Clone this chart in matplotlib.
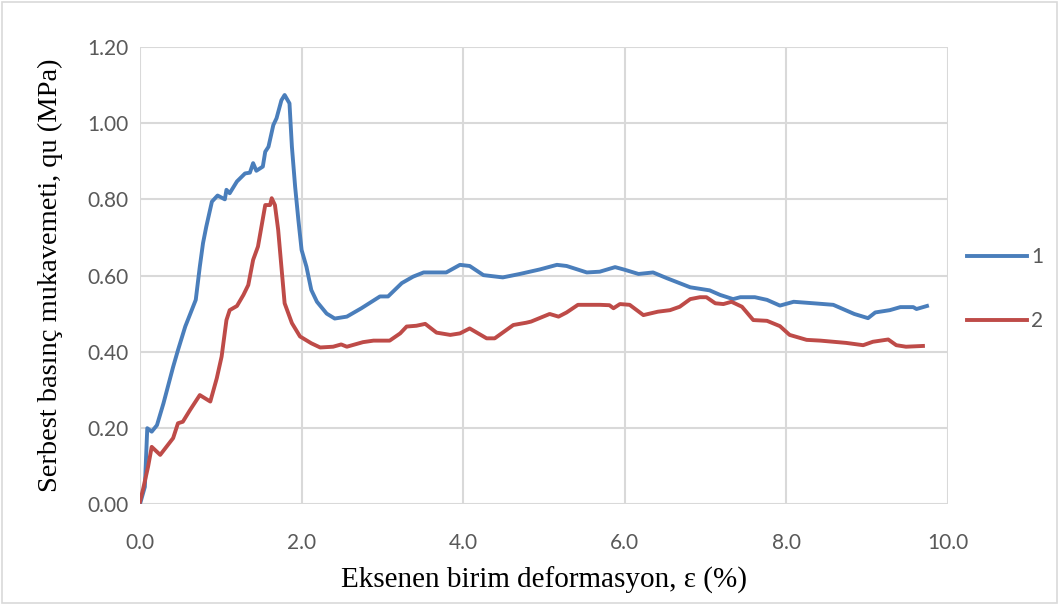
import numpy as np
import matplotlib
matplotlib.use("Agg")
import matplotlib.pyplot as plt
from matplotlib.patches import Rectangle

# Series 1 (blue): strain (%) vs qu (MPa)
x1 = [0.0, 0.06, 0.09, 0.145, 0.21, 0.29, 0.41, 0.47, 0.56, 0.64, 0.69, 0.74, 0.78,
      0.82, 0.89, 0.96, 1.05, 1.07, 1.11, 1.20, 1.30, 1.36, 1.40, 1.44, 1.52, 1.55,
      1.59, 1.65, 1.69, 1.75, 1.79, 1.85, 1.88, 1.92, 1.96, 2.00, 2.06, 2.12, 2.19,
      2.31, 2.41, 2.56, 2.74, 2.97, 3.07, 3.24, 3.38, 3.51, 3.79, 3.96, 4.08, 4.25,
      4.49, 4.70, 4.95, 5.16, 5.28, 5.53, 5.69, 5.88, 6.00, 6.17, 6.35, 6.52, 6.81,
      7.05, 7.18, 7.34, 7.43, 7.61, 7.76, 7.92, 8.09, 8.34, 8.58, 8.84, 9.01, 9.10,
      9.28, 9.41, 9.57, 9.61, 9.74]
y1 = [0.0, 0.045, 0.199, 0.19, 0.207, 0.264, 0.36, 0.404, 0.466, 0.509, 0.536, 0.623,
      0.685, 0.728, 0.794, 0.81, 0.80, 0.825, 0.816, 0.847, 0.868, 0.87, 0.895, 0.875,
      0.886, 0.925, 0.938, 0.995, 1.013, 1.06, 1.074, 1.052, 0.938, 0.833, 0.746,
      0.667, 0.623, 0.562, 0.531, 0.50, 0.487, 0.492, 0.514, 0.545, 0.545, 0.58,
      0.597, 0.608, 0.608, 0.628, 0.625, 0.601, 0.595, 0.604, 0.616, 0.628, 0.625,
      0.608, 0.61, 0.622, 0.615, 0.604, 0.608, 0.593, 0.569, 0.561, 0.549, 0.538,
      0.543, 0.543, 0.536, 0.521, 0.531, 0.527, 0.523, 0.499, 0.488, 0.503, 0.509,
      0.517, 0.517, 0.512, 0.52]

# Series 2 (red)
x2 = [0.0, 0.04, 0.10, 0.145, 0.25, 0.41, 0.47, 0.53, 0.62, 0.74, 0.87, 0.95, 1.01,
      1.07, 1.11, 1.20, 1.28, 1.34, 1.40, 1.46, 1.55, 1.61, 1.63, 1.67, 1.71, 1.75,
      1.79, 1.88, 1.98, 2.12, 2.23, 2.39, 2.49, 2.56, 2.76, 2.89, 3.09, 3.22, 3.30,
      3.42, 3.53, 3.67, 3.84, 3.96, 4.08, 4.29, 4.39, 4.62, 4.78, 4.84, 5.07, 5.18,
      5.28, 5.42, 5.69, 5.81, 5.86, 5.94, 6.06, 6.23, 6.41, 6.56, 6.68, 6.81, 6.93,
      7.01, 7.12, 7.22, 7.32, 7.45, 7.59, 7.76, 7.92, 8.04, 8.25, 8.42, 8.58, 8.74,
      8.95, 9.07, 9.26, 9.36, 9.48, 9.69]
y2 = [0.006, 0.041, 0.098, 0.15, 0.129, 0.173, 0.212, 0.216, 0.247, 0.286, 0.269,
      0.33, 0.387, 0.483, 0.509, 0.52, 0.549, 0.575, 0.641, 0.676, 0.785, 0.785,
      0.803, 0.785, 0.72, 0.623, 0.527, 0.475, 0.44, 0.422, 0.411, 0.413, 0.419,
      0.413, 0.425, 0.429, 0.429, 0.448, 0.466, 0.468, 0.473, 0.45, 0.444, 0.448,
      0.461, 0.435, 0.435, 0.47, 0.476, 0.479, 0.499, 0.492, 0.503, 0.523, 0.523,
      0.522, 0.514, 0.525, 0.523, 0.496, 0.505, 0.509, 0.518, 0.538, 0.543, 0.543,
      0.527, 0.525, 0.531, 0.518, 0.483, 0.481, 0.467, 0.444, 0.431, 0.429, 0.426,
      0.423, 0.417, 0.426, 0.432, 0.417, 0.413, 0.415]

labels = ["1", "2"]
x_ticks = np.arange(0, 10.1, 2.0)
y_ticks = np.arange(0, 1.21, 0.2)

fig = plt.figure(figsize=(10.59, 6.05), dpi=100)
ax = fig.add_axes([140 / 1059, 1 - 504 / 605, 808 / 1059, 457 / 605])

# chart border
fig.patches.append(Rectangle((0.002, 0.003), 0.996, 0.994, transform=fig.transFigure,
                             fill=False, edgecolor="#d9d9d9", linewidth=1.2))

ax.plot(x1, y1, color="#4a7ebb", linewidth=2.8, label=labels[0], solid_joinstyle="round")
ax.plot(x2, y2, color="#be4b48", linewidth=2.8, label=labels[1], solid_joinstyle="round")

ax.set_xlim(0, 10)
ax.set_ylim(0, 1.2)
ax.set_xticks(x_ticks)
ax.set_yticks(y_ticks)
ax.set_xticklabels([f"{v:.1f}" for v in x_ticks])
ax.set_yticklabels([f"{v:.2f}" for v in y_ticks])
ax.grid(True, color="#d9d9d9", linewidth=1.5)
ax.set_axisbelow(True)
for s in ax.spines.values():
    s.set_visible(False)
ax.tick_params(length=0, labelsize=15, colors="#595959", pad=8)
for t in ax.get_xticklabels() + ax.get_yticklabels():
    t.set_family("Lato")
ax.tick_params(axis="x", pad=21)

ax.set_xlabel("Eksenen birim deformasyon, ε (%)", family="Liberation Serif",
              fontsize=21, color="black", labelpad=10)
ax.set_ylabel("Serbest basınç mukavemeti, qu (MPa)", family="Liberation Serif",
              fontsize=20.5, color="black", labelpad=18)

leg = ax.legend(loc="center left", bbox_to_anchor=(1.0, 0.47), frameon=False,
                handlelength=2.9, labelspacing=2.1, handletextpad=0.2,
                prop={"family": "Lato", "size": 15})
for t in leg.get_texts():
    t.set_color("#595959")

fig.savefig("out.png", dpi=100)
